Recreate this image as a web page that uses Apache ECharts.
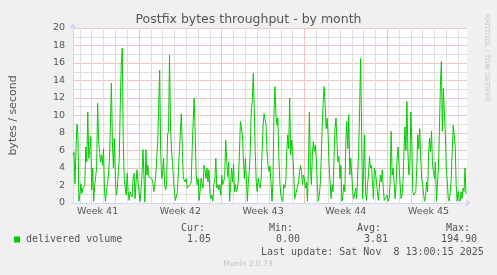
<!DOCTYPE html>
<html><head><meta charset="utf-8">
<script src="https://cdn.jsdelivr.net/npm/echarts@6/dist/echarts.min.js"></script>
<style>html,body{margin:0;padding:0;background:#F0F0F0;}#c{width:497px;height:275px;}</style>
</head><body><div id="c"></div>
<script>
// bytes/second, one sample every 2 hours (hour 34 = left edge, hour 168 = Mon of week 42)
const week41Values = [5.5,5.8,2.2,6.0,9.0,7.8,0.2,1.0,2.2,1.1,1.7,1.8,2.0,6.4,4.7,10.4,5.1,6.0,7.6,1.5,4.0,0.2,2.0,3.0,4.0,11.4,7.0,5.8,4.7,5.5,4.3,6.2,1.3,0.2,
  1.3,1.3,3.2,5.0,8.9,13.7,7.0,4.0,7.4,3.0,0.9,1.7,3.6,5.1,11.2,15.8,17.7,7.0,2.8,1.8,0.9,3.4,1.3,0.3,1.3,1.0,0.7,2.8,3.4,0.5,2.4,3.8,2.4];
const week42Values = [1.3,0.2,1.3,3.2,6.1,3.2,0.1,6.1,3.2,4.3,3.0,2.8,2.8,2.8,2.4,1.3,1.9,3.2,5.0,7.0,7.0,15.2,5.9,2.8,3.5,5.1,2.1,1.5,2.1,7.8,8.2,16.9,8.5,6.2,
  4.5,2.8,1.3,0.3,0.1,1.3,3.6,5.9,8.2,10.2,6.1,2.8,2.6,2.4,2.8,1.7,1.5,1.9,2.1,2.4,6.2,9.3,12.0,8.2,3.2,2.1,2.8,0.3,1.3,2.8,2.2,1.7,4.3,
  3.8,2.8,4.0,2.4,3.8,1.1,0.5,0.9,0.2,2.1,2.8,5.1,1.7,2.1,1.5,2.1,0.9];
const week43Values = [3.2,2.1,2.5,3.0,7.2,5.1,3.0,4.7,0.2,2.1,4.0,2.4,4.5,1.3,2.1,1.3,1.7,
  2.8,5.9,9.3,9.5,7.8,4.9,2.8,5.1,2.8,0.2,2.4,3.6,6.2,10.8,11.6,14.8,10.8,5.9,2.4,1.3,2.8,2.1,1.7,2.8,5.9,8.9,10.2,10.4,8.9,5.9,4.3,3.6,4.2,2.4,0.2,
  2.4,10.1,13.3,10.2,8.9,9.7,5.1,2.4,0.9,0.5,0.2,2.1,1.7,2.4,5.9,7.8,6.2,12.0,5.5,7.2,5.9,3.6,0.5,0.9,1.5,1.3,2.4,3.6,4.3,3.6,2.1,3.2];
const week44Values = [2.8,
  1.7,2.4,0.2,4.0,10.4,4.3,2.1,5.5,7.0,5.9,6.6,5.1,2.1,0.2,0.9,2.1,5.1,8.9,11.6,13.3,11.2,8.5,9.7,7.8,4.3,2.4,0.5,2.1,1.3,5.1,8.5,9.7,7.0,
  4.7,5.3,2.8,4.3,0.2,0.9,2.1,1.3,7.0,9.3,6.2,10.1,3.2,5.1,3.2,1.3,0.5,0.3,1.7,0.5,3.2,5.9,10.8,16.5,8.2,0.5,3.6,7.8,1.3,0.3,2.1,3.2,5.3,4.0,
  4.3,4.2,0.5,4.0,3.6,3.8,1.3,0.3,1.7,3.2,2.4,3.8,1.7,0.3,0.2,0.5];
const week45Values = [0.9,0.2,0.5,2.4,8.2,3.2,4.0,2.2,0.5,2.1,5.1,6.4,4.3,2.4,0.5,0.9,2.4,5.9,
  8.7,6.0,11.6,5.9,3.2,4.3,10.4,7.0,1.3,0.9,1.1,1.3,4.0,7.8,6.2,8.5,5.1,2.8,2.1,0.9,0.2,0.9,2.4,1.3,5.5,7.4,5.9,8.2,4.3,3.6,2.8,4.7,
  0.2,2.1,4.0,8.2,13.5,16.2,8.2,13.1,10.4,7.8,4.0,2.4,0.5,0.2,1.3,2.8,5.9,8.9,9.1,6.6,2.1,0.2,1.3,0.5,0.2,1.3,0.5,1.7,1.3,4.0,1.05];

const startHour = 34, stepHours = 2, endHour = 834;
const weekLabels = ['Week 41','Week 42','Week 43','Week 44','Week 45'];
const weekLabelHours = [84,252,420,588,756];
const weekLineHours = [168,336,504,672];
const dayLineHours = [48,72,96,120,144,192,216,240,264,288,312,360,384,408,432,456,480,528,552,576,600,624,648,696,720,744,768,792,816];
const yMajor = [0,2,4,6,8,10,12,14,16,18,20];
const yMinor = [1,3,5,7,9,11,13,15,17,19];

const titleText = 'Postfix bytes throughput - by month';
const yName = 'bytes / second';
const seriesName = 'delivered volume';
const statHeads = ['Cur:','Min:','Avg:','Max:'];
const statValues = ['1.05','0.00','3.81','194.90'];
const lastUpdate = 'Last update: Sat Nov  8 13:00:15 2025';
const footer = 'Munin 2.0.73';
const watermark = 'RRDTOOL / TOBI OETIKER';

const values = [].concat(week41Values, week42Values, week43Values, week44Values, week45Values);
const data = values.map((v, i) => [startHour + i * stepHours, v]);
const RED = '#f5c2c2', GRAY = '#dedede', AXIS = '#cfd6f8';

const FONT = 'DejaVu Sans', MONO = 'DejaVu Sans Mono', TXT = '#555555';
const headX = [181, 269, 357, 446];
const valX = [187, 276, 364, 441];

const graphic = [
  {type:'text', x:487, y:14, rotation:-Math.PI/2, style:{text:watermark, fill:'#c4c4c4', font:'6.8px "'+FONT+'"', align:'left', verticalAlign:'middle'}},
  {type:'rect', shape:{x:14, y:236.5, width:6, height:6}, style:{fill:'#00cc00'}},
  {type:'text', x:26, y:239.5, style:{text:seriesName, fill:TXT, font:'10px "'+MONO+'"', align:'left', verticalAlign:'middle'}},
  {type:'text', x:261, y:252, style:{text:lastUpdate, fill:TXT, font:'10px "'+MONO+'"', align:'left', verticalAlign:'middle'}},
  {type:'text', x:248, y:264.5, style:{text:footer, fill:'#c0c0c0', font:'7.5px "'+FONT+'"', align:'center', verticalAlign:'middle'}}
];
statHeads.forEach((t, i) => graphic.push({type:'text', x:headX[i], y:228, style:{text:t, fill:TXT, font:'10px "'+MONO+'"', align:'left', verticalAlign:'middle'}}));
statValues.forEach((t, i) => graphic.push({type:'text', x:valX[i], y:239.5, style:{text:t, fill:TXT, font:'10px "'+MONO+'"', align:'left', verticalAlign:'middle'}}));

function gridAxis(values, color, extra) {
  return Object.assign({
    show: true,
    axisLine: {show: false}, axisLabel: {show: false},
    axisTick: {show: false, customValues: values},
    splitLine: {show: true, lineStyle: {color: color, type: 'solid', width: 1}}
  }, extra);
}

const chart = echarts.init(document.getElementById('c'), null, {renderer:'canvas', width:497, height:275});
chart.setOption({
  animation:false,
  backgroundColor:'#F0F0F0',
  textStyle:{fontFamily:FONT},
  title:{text:titleText, left:'center', top:8, textStyle:{fontSize:12.5, fontWeight:'normal', color:TXT, fontFamily:FONT}},
  grid:{left:67, top:28, width:400, height:175, show:true, backgroundColor:'#ffffff', borderWidth:0, containLabel:false},
  xAxis:[
    gridAxis(dayLineHours, GRAY, {type:'value', min:startHour, max:endHour, position:'top'}),
    gridAxis(weekLineHours, RED, {type:'value', min:startHour, max:endHour, position:'top'}),
    {
      type:'value', min:startHour, max:endHour, position:'bottom',
      axisLine:{show:true, lineStyle:{color:AXIS}, symbol:['none','arrow'], symbolSize:[6,6], symbolOffset:[0,4]},
      axisTick:{show:false, customValues:weekLabelHours},
      splitLine:{show:false},
      axisLabel:{customValues:weekLabelHours, formatter:v => weekLabels[weekLabelHours.indexOf(v)], color:TXT, fontSize:9.5, margin:4, fontFamily:FONT}
    }
  ],
  yAxis:[
    gridAxis(yMinor, GRAY, {type:'value', min:0, max:20, position:'right'}),
    gridAxis(yMajor, RED, {type:'value', min:0, max:20, position:'right'}),
    {
      type:'value', min:0, max:20, interval:2, position:'left',
      name:yName, nameLocation:'middle', nameGap:54, nameTextStyle:{fontSize:11, color:TXT, fontFamily:FONT},
      axisLine:{show:true, lineStyle:{color:AXIS}, symbol:['none','arrow'], symbolSize:[6,6], symbolOffset:[0,5]},
      axisTick:{show:false},
      axisLabel:{color:TXT, fontSize:9.5, margin:8, fontFamily:FONT},
      splitLine:{show:false}
    }
  ],
  series:[{type:'line', name:seriesName, xAxisIndex:2, yAxisIndex:2, data:data, symbol:'none', showSymbol:false, lineStyle:{color:'#00cc00', width:1}, itemStyle:{color:'#00cc00'}, z:3}],
  graphic:graphic
});
</script></body></html>
